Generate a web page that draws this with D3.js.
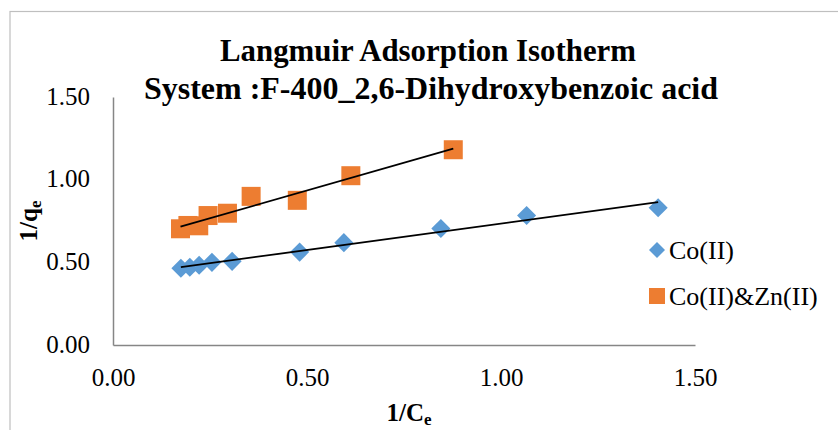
<!DOCTYPE html>
<html><head><meta charset="utf-8">
<script src="https://cdn.jsdelivr.net/npm/d3@7/dist/d3.min.js"></script>
<style>body{margin:0;background:#fff}svg{display:block}text{font-family:"Liberation Serif","Times New Roman",serif}</style>
</head><body>
<svg id="c" width="838" height="430"></svg>
<script>
const titleLines = ["Langmuir Adsorption Isotherm", "System :F-400_2,6-Dihydroxybenzoic acid"];
const xTicks = [0, 0.5, 1.0, 1.5];
const yTicks = [0, 0.5, 1.0, 1.5];
const seriesNames = ["Co(II)", "Co(II)&Zn(II)"];
const coX = [0.175, 0.198, 0.222, 0.255, 0.307, 0.481, 0.595, 0.845, 1.066, 1.405];
const coY = [0.464, 0.470, 0.482, 0.500, 0.506, 0.562, 0.619, 0.705, 0.783, 0.830];
const coZnX = [0.174, 0.193, 0.221, 0.245, 0.295, 0.356, 0.475, 0.613, 0.877];
const coZnY = [0.703, 0.723, 0.721, 0.783, 0.797, 0.899, 0.875, 1.024, 1.181];
const colors = ["#5B9BD5", "#ED7D31"];

const svg = d3.select("#c");
const L = 113, R = 695, T = 97, B = 345;
const x = d3.scaleLinear().domain([0, 1.5]).range([L, R]);
const y = d3.scaleLinear().domain([0, 1.5]).range([B, T]);

// outer frame
svg.append("rect").attr("x", 10).attr("y", 11.5).attr("width", 850).attr("height", 450)
  .attr("fill", "none").attr("stroke", "#BFBFBF").attr("stroke-width", 1.2);

// title
const tw = [416, 574];
const tx = [220, 144];
const tb = [61, 99];
titleLines.forEach((t, i) => {
  svg.append("text").attr("x", tx[i]).attr("y", tb[i]).attr("font-size", 31).attr("font-weight", "bold")
    .attr("textLength", tw[i]).attr("lengthAdjust", "spacingAndGlyphs").text(t);
});

// axes
const xAxis = d3.axisBottom(x).tickValues(xTicks).tickSize(0).tickPadding(0).tickFormat(d3.format(".2f"));
const gx = svg.append("g").attr("transform", `translate(0,${B})`).call(xAxis);
gx.select(".domain").attr("stroke", "#868686").attr("stroke-width", 1.5);
gx.selectAll("text").attr("font-size", 25).attr("fill", "#000").attr("dy", null).attr("y", 41);

const yAxis = d3.axisLeft(y).tickValues(yTicks).tickSize(0).tickPadding(0).tickFormat(d3.format(".2f"));
const gy = svg.append("g").attr("transform", `translate(${L},0)`).call(yAxis);
gy.select(".domain").attr("stroke", "#868686").attr("stroke-width", 1.5);
gy.selectAll("text").attr("font-size", 25).attr("fill", "#000").attr("x", -23).attr("dy", "0.28em");

// axis titles
const xt = svg.append("text").attr("x", 409).attr("y", 421).attr("text-anchor", "middle")
  .attr("font-size", 25).attr("font-weight", "bold");
xt.append("tspan").text("1/C");
xt.append("tspan").attr("font-size", 17).attr("dy", 4).text("e");

const yt = svg.append("text").attr("transform", `translate(37,${(T + B) / 2}) rotate(-90)`)
  .attr("text-anchor", "middle").attr("font-size", 25).attr("font-weight", "bold");
yt.append("tspan").text("1/q");
yt.append("tspan").attr("font-size", 17).attr("dy", 4).text("e");

// data
const series = [
  { xs: coX, ys: coY },
  { xs: coZnX, ys: coZnY }
];
function fit(xs, ys) {
  const mx = d3.mean(xs), my = d3.mean(ys);
  let sxy = 0, sxx = 0;
  xs.forEach((v, i) => { sxy += (v - mx) * (ys[i] - my); sxx += (v - mx) * (v - mx); });
  const m = sxy / sxx; return { m, b: my - m * mx };
}
// markers
series.forEach((s, k) => {
  const sym = k === 0 ? d3.symbol().type(d3.symbolSquare).size(13.5 * 13.5) : d3.symbol().type(d3.symbolSquare).size(19 * 19);
  svg.append("g").selectAll("path").data(s.xs.map((v, i) => [v, s.ys[i]])).join("path")
    .attr("d", sym)
    .attr("transform", d => `translate(${x(d[0])},${y(d[1])})` + (k === 0 ? " rotate(45)" : ""))
    .attr("fill", colors[k]);
});
// trendlines
series.forEach((s) => {
  const f = fit(s.xs, s.ys);
  const x0 = d3.min(s.xs), x1 = d3.max(s.xs);
  svg.append("line").attr("x1", x(x0)).attr("y1", y(f.m * x0 + f.b)).attr("x2", x(x1)).attr("y2", y(f.m * x1 + f.b))
    .attr("stroke", "#000").attr("stroke-width", 1.8);
});

// legend
const lg = svg.append("g");
const legY = [250, 296];
seriesNames.forEach((n, k) => {
  const sym = k === 0 ? d3.symbol().type(d3.symbolSquare).size(11.3 * 11.3) : d3.symbol().type(d3.symbolSquare).size(16 * 16);
  lg.append("path").attr("d", sym)
    .attr("transform", `translate(657,${legY[k]})` + (k === 0 ? " rotate(45)" : "")).attr("fill", colors[k]);
  lg.append("text").attr("x", 669).attr("y", legY[k] + 8.5).attr("font-size", 26).text(n);
});
</script>
</body></html>
